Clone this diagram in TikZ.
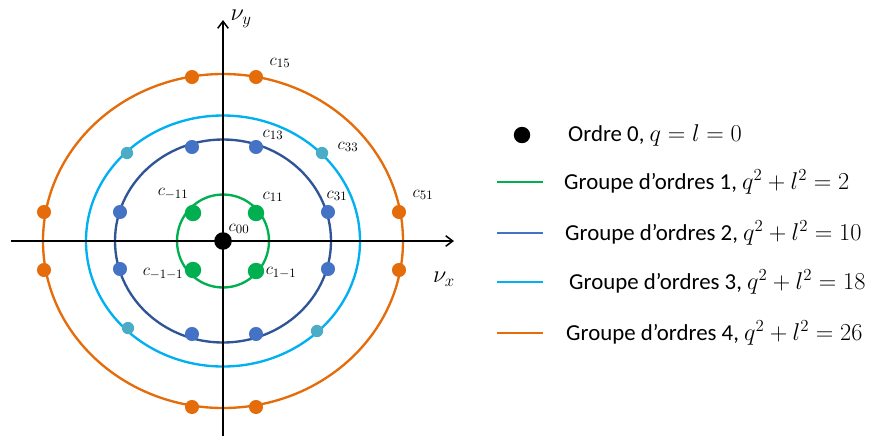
\documentclass[tikz,border=0pt]{standalone}
\usepackage{fontspec}
\setmainfont{Carlito}
\usepackage{tikz}
\usetikzlibrary{arrows.meta,positioning}
\definecolor{ordGreen}   {RGB}{0,  176, 80}
\definecolor{ringBlue}   {RGB}{47, 85,  151}
\definecolor{dotBlue}    {RGB}{68, 114, 196}
\definecolor{ringCyan}   {RGB}{0,  176, 240}
\definecolor{dotCyan}    {RGB}{75, 172, 198}
\definecolor{ordOrange}  {RGB}{228,108, 10}

\tikzset{
  ring/.style={line width=2pt},
  pt/.style={circle,inner sep=0pt,minimum size=#1},
  clab/.style={font=\fontsize{15}{15}\selectfont,inner sep=0pt},
  leg/.style={anchor=west,font=\fontsize{19.5}{19.5}\selectfont,inner sep=0pt},
  legline/.style={line width=2.2pt}
}

\begin{document}
\begin{tikzpicture}[x=0.03cm,y=-0.03cm]
  \useasboundingbox (0,0) rectangle (870,436);
  \coordinate (O) at (223,241);
  % rings
  \draw[ring,ordGreen]  (O) ellipse [x radius=46,  y radius=46.5];
  \draw[ring,ringBlue]  (O) ellipse [x radius=108, y radius=101.5];
  \draw[ring,ringCyan]  (O) ellipse [x radius=137, y radius=125.5];
  \draw[ring,ordOrange] (O) ellipse [x radius=180, y radius=167];
  % axes
  \coordinate (xs) at (11,241);  \coordinate (xe) at (454,241);
  \coordinate (ys) at (223,436); \coordinate (ye) at (223,20);
  \draw[line width=1.3pt,-{Straight Barb[length=6pt,width=9pt]}] (xs)--(xe);
  \draw[line width=1.3pt,-{Straight Barb[length=6pt,width=9pt]}] (ys)--(ye);
  \node[font=\fontsize{21}{21}\selectfont,inner sep=0pt] (vy) at (241,19) {$\nu_y$};
  \node[font=\fontsize{21}{21}\selectfont,inner sep=0pt] (vx) at (444,279) {$\nu_x$};
  % dots
  \foreach \x/\y [count=\i] in {193/213, 256/213, 193/270, 256/271}
    \node[pt=14pt,fill=ordGreen] (g\i) at (\x,\y) {};
  \foreach \x/\y [count=\i] in {192/147, 256/147, 120/212, 328/212,
                               120/269, 328/269, 192/334, 256/334}
    \node[pt=12pt,fill=dotBlue] (b\i) at (\x,\y) {};
  \foreach \x/\y [count=\i] in {127/153, 322/153, 128/328, 317/331}
    \node[pt=10.5pt,fill=dotCyan] (c\i) at (\x,\y) {};
  \foreach \x/\y [count=\i] in {192/77, 256/77, 44/212, 399/212,
                               44/270, 399/270, 192/407, 256/407}
    \node[pt=12pt,fill=ordOrange] (o\i) at (\x,\y) {};
  \node[pt=15pt,fill=black] (c00dot) at (O) {};
  % labels
  \foreach \nm/\x/\y/\t in {l00/239/229/{00}, l11/273/197/{11}, lm11/173/194/{-11},
                            lm1m1/163/274/{-1-1}, l1m1/281/273/{1-1}, l13/273/135/{13},
                            l31/337/196/{31}, l33/348/147/{33}, l15/280/63/{15},
                            l51/423/195/{51}}
    \node[clab] (\nm) at (\x,\y) {$c_{\t}$};
  % legend
  \node[pt=14pt,fill=black] (k0) at (522,135) {};
  \node[leg] (t0) at (568,135) {Ordre 0, $q=l=0$};
  \foreach \col/\y/\tx/\n/\v in {ordGreen/182/564/1/2, dotBlue/233/565/2/10,
                                 ringCyan/282/569/3/18, ordOrange/333/566/4/26}{
    \coordinate (ka\n) at (497,\y);
    \coordinate (kb\n) at (543,\y);
    \draw[legline,\col] (ka\n)--(kb\n);
    \node[leg] (t\n) at (\tx,\y) {Groupe d’ordres \n, $q^2+l^2=\v$};
  }
\end{tikzpicture}
\end{document}
